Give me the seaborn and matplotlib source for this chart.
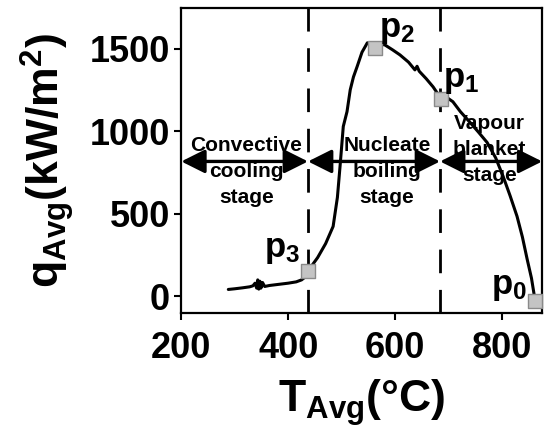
import matplotlib
matplotlib.use("Agg")
import matplotlib.pyplot as plt
import seaborn as sns
import pandas as pd

# Average heat flux vs. average surface temperature during quenching
temp_c = [288, 300, 315, 328, 334, 338, 341, 343, 345, 347, 349, 352, 356, 365, 380, 400, 415,
          425, 432, 437, 445, 455, 470, 484, 492, 497, 503, 510, 516, 522, 529, 538,
          548, 556, 563, 572, 581, 595, 609, 625, 637, 641, 645, 658, 671, 686, 697,
          708, 722, 740, 756, 772, 788, 802, 815, 828, 838, 847, 855, 862]
heat_flux = [42, 46, 52, 58, 64, 80, 50, 100, 44, 92, 50, 84, 60, 66, 72, 80, 88,
             100, 118, 151, 190, 235, 320, 424, 600, 790, 1030, 1120, 1252, 1330, 1394, 1480,
             1537, 1535, 1506, 1530, 1524, 1495, 1464, 1420, 1373, 1395, 1365, 1320, 1270, 1198, 1205,
             1180, 1120, 1055, 995, 933, 840, 727, 610, 485, 360, 224, 110, -30]

# Characteristic points
point_names = ["p$_\\mathbf{0}$", "p$_\\mathbf{1}$", "p$_\\mathbf{2}$", "p$_\\mathbf{3}$"]
point_temp = [862, 686, 563, 437]
point_flux = [-30, 1198, 1506, 151]

# Stage boundaries and labels
stage_bounds = [437, 684]
stage_names = ["Convective\ncooling\nstage", "Nucleate\nboiling\nstage", "Vapour\nblanket\nstage"]

sns.set_style("ticks")
plt.rcParams["font.family"] = ["Liberation Sans", "DejaVu Sans"]
plt.rcParams["font.weight"] = "bold"
plt.rcParams["text.color"] = "black"
plt.rcParams["axes.labelcolor"] = "black"
plt.rcParams["xtick.color"] = "black"
plt.rcParams["ytick.color"] = "black"
plt.rcParams["axes.edgecolor"] = "black"
plt.rcParams["mathtext.fontset"] = "custom"
plt.rcParams["mathtext.rm"] = "Liberation Sans:bold"
plt.rcParams["mathtext.bf"] = "Liberation Sans:bold"
plt.rcParams["mathtext.it"] = "Liberation Sans:bold"
plt.rcParams["mathtext.default"] = "bf"

fig = plt.figure(figsize=(5.46, 4.28), dpi=100)
ax = fig.add_axes([0.332, 0.269, 0.661, 0.713])

curve = pd.DataFrame({"T": temp_c, "q": heat_flux})
sns.lineplot(data=curve, x="T", y="q", ax=ax, color="black", lw=2.2, sort=False,
             estimator=None, zorder=3)

for xb in stage_bounds:
    ax.axvline(xb, color="black", lw=2.0, dashes=(8.5, 6), zorder=2)

pts = pd.DataFrame({"T": point_temp, "q": point_flux})
sns.scatterplot(data=pts, x="T", y="q", ax=ax, marker="s", s=105, color="#c4c4c4",
                edgecolor="#8a8a8a", linewidth=1.0, zorder=5, clip_on=False)

# Point labels
label_pos = [(780, 12), (690, 1272), (569, 1575), (354, 240)]
for name, (lx, ly) in zip(point_names, label_pos):
    ax.text(lx, ly, name, fontsize=25, fontweight="bold", ha="left", va="baseline", zorder=6)

# Stage arrows
arrow_y = 818
edges = [200, stage_bounds[0], stage_bounds[1], 875]
for a, b in zip(edges[:-1], edges[1:]):
    ax.annotate("", xy=(b, arrow_y), xytext=(a, arrow_y),
                arrowprops=dict(arrowstyle="<|-|>,head_length=0.9,head_width=0.45",
                                mutation_scale=16, color="black", lw=2.4,
                                shrinkA=0, shrinkB=0), zorder=4)

stage_text_pos = [(322, 756), (585, 756), (776, 889)]
for name, (tx, ty) in zip(stage_names, stage_text_pos):
    ax.text(tx, ty, name, fontsize=15, fontweight="bold", ha="center", va="center",
            linespacing=1.45, zorder=6)

ax.set_xlim(200, 875)
ax.set_ylim(-100, 1750)
ax.set_xticks([200, 400, 600, 800])
ax.set_yticks([0, 500, 1000, 1500])
ax.tick_params(axis="both", direction="out", length=5, width=1.5, labelsize=26)
ax.tick_params(axis="x", pad=8)
ax.tick_params(axis="y", pad=3)
for lab in ax.get_xticklabels() + ax.get_yticklabels():
    lab.set_fontweight("bold")
for sp in ax.spines.values():
    sp.set_visible(True)
    sp.set_linewidth(1.6)

ax.set_xlabel(r"T$_{\mathbf{Avg}}$(°C)", fontsize=32, fontweight="bold", labelpad=8)
ax.set_ylabel(r"q$_{\mathbf{Avg}}$(kW/m$^{\mathbf{2}}$)", fontsize=32, fontweight="bold", labelpad=10)

fig.savefig("out.png", dpi=100)
